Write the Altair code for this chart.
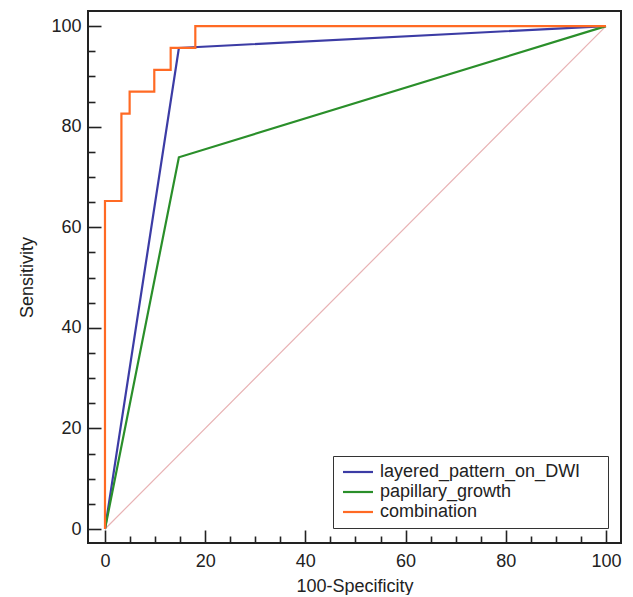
import altair as alt
import pandas as pd

series_names = ["layered_pattern_on_DWI", "papillary_growth", "combination"]
series_colors = ["#3c3ca5", "#2a8f2a", "#ff6a24"]

dwi_x = [0, 14.75, 100]
dwi_y = [0, 95.65, 100]
pap_x = [0, 14.75, 100]
pap_y = [0, 73.91, 100]
comb_x = [0, 0, 3.28, 3.28, 4.92, 4.92, 9.84, 9.84, 13.11, 13.11, 18.03, 18.03, 100]
comb_y = [0, 65.22, 65.22, 82.61, 82.61, 86.96, 86.96, 91.30, 91.30, 95.65, 95.65, 100, 100]
diag_x = [0, 100]
diag_y = [0, 100]
tick_vals = list(range(0, 101, 5))

rows = []
for name, xs, ys in zip(series_names, [dwi_x, pap_x, comb_x], [dwi_y, pap_y, comb_y]):
    for i, (a, b) in enumerate(zip(xs, ys)):
        rows.append({"series": name, "x": a, "y": b, "order": i})
df = pd.DataFrame(rows)
diag = pd.DataFrame({"x": diag_x, "y": diag_y})

FONT = "Liberation Sans"
xscale = alt.Scale(domain=[-3.39, 103.0], nice=False, zero=False)
yscale = alt.Scale(domain=[-2.78, 103.0], nice=False, zero=False)

tick_cond = {"condition": {"test": "datum.value % 20 === 0", "value": -13}, "value": -7}

xaxis = alt.Axis(values=tick_vals, title="100-Specificity", grid=False, domain=False,
                 labelExpr="datum.value % 20 === 0 ? datum.label : ''",
                 labelOverlap=False, tickSize=tick_cond, tickColor="#222", tickWidth=1.6,
                 labelPadding=22, labelFontSize=18, labelColor="#222", labelFont=FONT,
                 titleFontSize=18, titleFont=FONT, titleFontWeight="normal", titleColor="#222",
                 titlePadding=1, labelFlush=False)
yaxis = alt.Axis(values=tick_vals, title="Sensitivity", grid=False, domain=False,
                 labelExpr="datum.value % 20 === 0 ? datum.label : ''",
                 labelOverlap=False, tickSize=tick_cond, tickColor="#222", tickWidth=1.6,
                 labelPadding=20, labelFontSize=18, labelColor="#222", labelFont=FONT,
                 titleFontSize=18, titleFont=FONT, titleFontWeight="normal", titleColor="#222",
                 titlePadding=14, labelFlush=False)

diag_layer = alt.Chart(diag).mark_line(color="#e8b2b4", strokeWidth=1.2).encode(
    x=alt.X("x:Q", scale=xscale, axis=xaxis),
    y=alt.Y("y:Q", scale=yscale, axis=yaxis),
)

pad = "\u00a0" * 4 + "\u200b"

lines = alt.Chart(df).mark_line(strokeWidth=2.2).encode(
    x=alt.X("x:Q", scale=xscale, axis=xaxis),
    y=alt.Y("y:Q", scale=yscale, axis=yaxis),
    order="order:Q",
    color=alt.Color("series:N", sort=series_names,
                    scale=alt.Scale(domain=series_names, range=series_colors),
                    legend=alt.Legend(title=None, orient="none", legendX=245, legendY=445,
                                      symbolType="M-3,0H3", symbolSize=100, symbolStrokeWidth=2.2,
                                      labelFontSize=18, labelFont=FONT, labelColor="#222",
                                      labelExpr="datum.label + '" + pad + "'",
                                      strokeColor="#333", fillColor="white", padding=7,
                                      rowPadding=2, labelOffset=13, symbolOffset=9,
                                      labelLimit=400)),
    detail="series:N",
)

chart = alt.layer(diag_layer, lines).properties(
    width=533, height=532,
    background="white",
    autosize=alt.AutoSizeParams(type="none"),
    padding={"left": 80, "top": 3, "right": 4, "bottom": 52},
).configure_view(stroke="#222", strokeWidth=2)

chart.save("out.html", embed_options={"renderer": "svg", "actions": False})
